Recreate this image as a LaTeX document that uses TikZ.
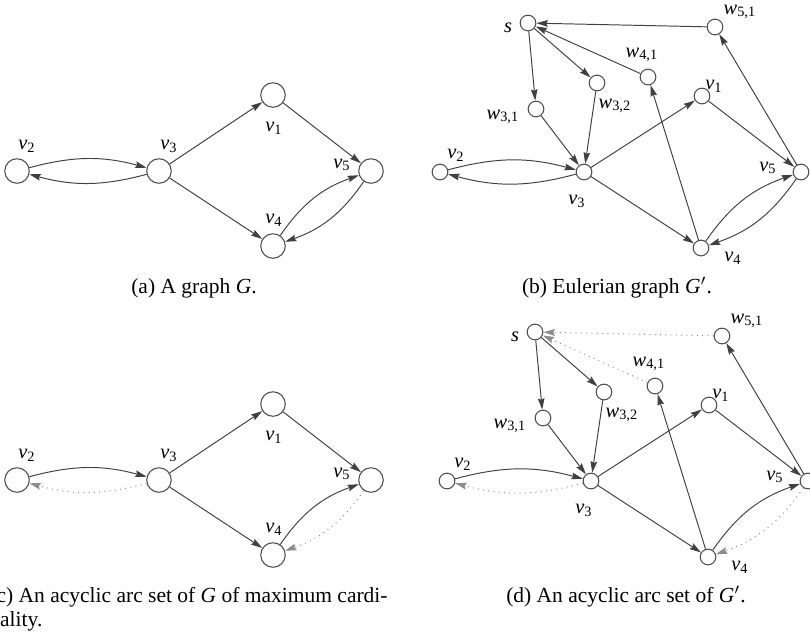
\documentclass[tikz,border=0pt]{standalone}
\usepackage{fontspec}
\setmainfont{Liberation Serif}
\usetikzlibrary{arrows.meta}
\definecolor{ink}{HTML}{404040}
\definecolor{rim}{HTML}{505050}
\definecolor{dots}{HTML}{8C8C8C}
\tikzset{
  bignode/.style={circle,draw=rim,line width=0.5pt,fill=white,minimum size=11.4pt,inner sep=0pt},
  smallnode/.style={bignode,minimum size=7.3pt},
  vlabel/.style={font=\fontsize{9.5}{11}\selectfont,inner sep=0pt},
  caption/.style={font=\fontsize{10}{11}\selectfont,inner sep=0pt},
  arrowline/.style={-{Stealth[length=5.3pt,width=3.1pt,inset=0.7pt]},draw=ink,line width=0.45pt},
  dottedline/.style={arrowline,draw=dots,dotted}
}
\newcommand{\vlab}[1]{\textit{v}\textsubscript{#1}}
\newcommand{\wlab}[1]{\textit{w}\textsubscript{#1}}
% graph G, #1 = name prefix, #2 = style of the two back arcs
\newcommand{\graphG}[2]{%
  \node[bignode] (#1v1) at (273,95) {};
  \node[bignode] (#1v2) at (17,171) {};
  \node[bignode] (#1v3) at (159,171) {};
  \node[bignode] (#1v5) at (371,171) {};
  \node[bignode] (#1v4) at (273,246) {};
  \node[vlabel] (#1v1-l) at (274,128) {\vlab{1}};
  \node[vlabel] (#1v2-l) at (27,146) {\vlab{2}};
  \node[vlabel] (#1v3-l) at (169,146) {\vlab{3}};
  \node[vlabel] (#1v5-l) at (342,165) {\vlab{5}};
  \node[vlabel] (#1v4-l) at (274,220) {\vlab{4}};
  \draw[arrowline] (#1v2) to[bend left=15] (#1v3);
  \draw[#2] (#1v3) to[bend left=15] (#1v2);
  \draw[arrowline] (#1v3) -- (#1v1);
  \draw[arrowline] (#1v1) -- (#1v5);
  \draw[arrowline] (#1v3) -- (#1v4);
  \draw[arrowline] (#1v4) to[bend left=18] (#1v5);
  \draw[#2] (#1v5) to[bend left=18] (#1v4);
}
% graph G', #1 = name prefix, #2 = style of the back arcs
\newcommand{\graphGp}[2]{%
  \node[smallnode] (#1s) at (528,23) {};
  \node[smallnode] (#1w51) at (715,27) {};
  \node[smallnode] (#1w41) at (648,77) {};
  \node[smallnode] (#1w32) at (597,83) {};
  \node[smallnode] (#1w31) at (536,109) {};
  \node[smallnode] (#1v1) at (702,96) {};
  \node[smallnode] (#1v2) at (440,172) {};
  \node[smallnode] (#1v3) at (584,172) {};
  \node[smallnode] (#1v5) at (801,172) {};
  \node[smallnode] (#1v4) at (701,248) {};
  \node[vlabel] (#1s-l) at (508,28) {\textit{s}};
  \node[vlabel] (#1w51-l) at (740,12) {\wlab{5,1}};
  \node[vlabel] (#1w41-l) at (642,55) {\wlab{4,1}};
  \node[vlabel] (#1w32-l) at (615,106) {\wlab{3,2}};
  \node[vlabel] (#1w31-l) at (503,117) {\wlab{3,1}};
  \node[vlabel] (#1v1-l) at (714,86) {\vlab{1}};
  \node[vlabel] (#1v2-l) at (456,155) {\vlab{2}};
  \node[vlabel] (#1v3-l) at (577,201) {\vlab{3}};
  \node[vlabel] (#1v5-l) at (768,168) {\vlab{5}};
  \node[vlabel] (#1v4-l) at (733,258) {\vlab{4}};
  \draw[#2] (#1w51) -- (#1s);
  \draw[#2] (#1w41) -- (#1s);
  \draw[arrowline] (#1s) -- (#1w31);
  \draw[arrowline] (#1s) -- (#1w32);
  \draw[arrowline] (#1w31) -- (#1v3);
  \draw[arrowline] (#1w32) -- (#1v3);
  \draw[arrowline] (#1v2) to[bend left=15] (#1v3);
  \draw[#2] (#1v3) to[bend left=15] (#1v2);
  \draw[arrowline] (#1v3) -- (#1v1);
  \draw[arrowline] (#1v1) -- (#1v5);
  \draw[arrowline] (#1v3) -- (#1v4);
  \draw[arrowline] (#1v4) -- (#1w41);
  \draw[arrowline] (#1v5) -- (#1w51);
  \draw[arrowline] (#1v4) to[bend left=18] (#1v5);
  \draw[#2] (#1v5) to[bend left=18] (#1v4);
}
\begin{document}
\begin{tikzpicture}[x=0.4651pt,y=-0.4651pt]
  \useasboundingbox (0,0) rectangle (810,635);
  % (a) and (b)
  \graphG{a-}{arrowline}
  \graphGp{b-}{arrowline}
  \node[caption] (cap-a) at (194,288) {(a) A graph \textit{G}.};
  \node[caption] (cap-b) at (617,288) {(b) Eulerian graph \textit{G}$'$.};
  % (c) and (d)
  \begin{scope}[shift={(0,309)}]
    \graphG{c-}{dottedline}
  \end{scope}
  \begin{scope}[shift={(7,309)}]
    \graphGp{d-}{dottedline}
  \end{scope}
  \node[caption,anchor=north west,align=left] (cap-c) at (-11,587)
    {(c) An acyclic arc set of \textit{G} of maximum cardi-\\nality.};
  \node[caption] (cap-d) at (626,597) {(d) An acyclic arc set of \textit{G}$'$.};
\end{tikzpicture}
\end{document}
